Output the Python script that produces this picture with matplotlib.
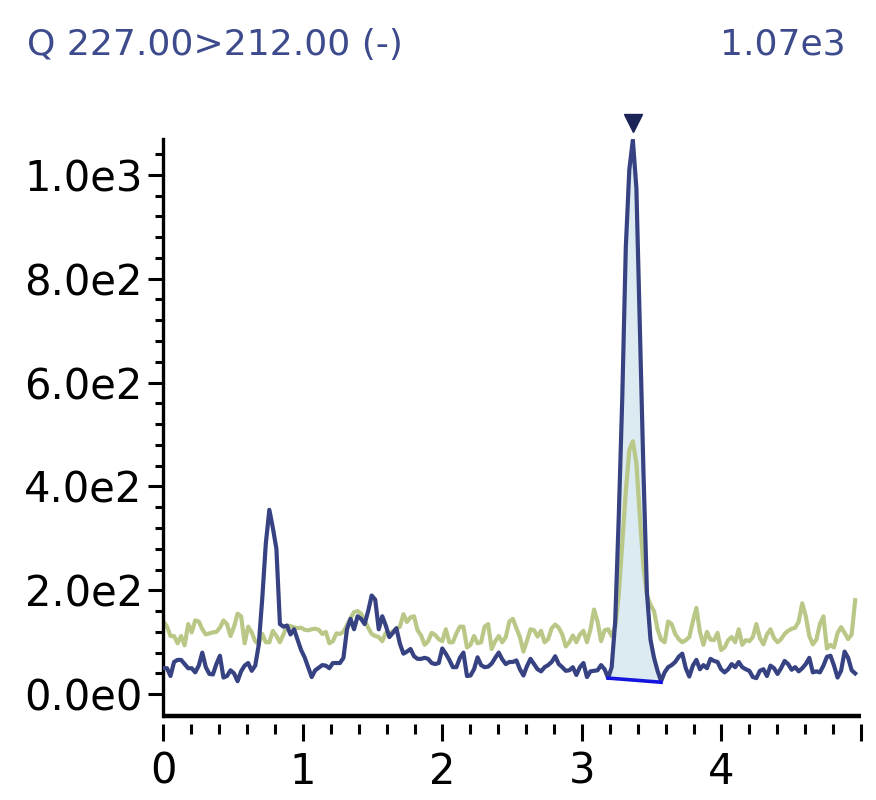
import numpy as np
import matplotlib
matplotlib.use('Agg')
import matplotlib.pyplot as plt

# Cromatograma: dos transiciones (azul = cuantificador, verde = confirmador)
RT_STEP = 0.0253  # min entre puntos

INT_BLUE = [
    50, 50, 35, 62, 66, 66, 58, 50, 50, 42,
    55, 80, 52, 39, 38, 58, 74, 32, 35, 46,
    40, 25, 44, 55, 60, 45, 55, 95, 185, 290,
    355, 320, 280, 135, 130, 132, 115, 125, 105, 85,
    71, 52, 33, 46, 51, 56, 55, 50, 60, 60,
    60, 70, 125, 145, 125, 150, 145, 135, 160, 190,
    182, 125, 150, 132, 110, 118, 127, 97, 78, 82,
    87, 73, 68, 68, 70, 68, 60, 58, 60, 88,
    78, 66, 52, 52, 70, 80, 35, 36, 48, 71,
    56, 52, 53, 59, 70, 80, 67, 58, 62, 62,
    65, 48, 36, 54, 68, 58, 48, 44, 52, 56,
    62, 73, 58, 52, 45, 46, 52, 37, 52, 60,
    33, 44, 45, 46, 56, 48, 31, 52, 140, 340,
    570, 860, 1010, 1067, 975, 700, 430, 195, 105, 70,
    45, 25, 42, 52, 56, 62, 72, 78, 50, 34,
    55, 66, 48, 56, 50, 68, 64, 62, 48, 42,
    48, 58, 52, 62, 52, 48, 45, 33, 31, 45,
    48, 35, 55, 50, 39, 50, 64, 58, 47, 52,
    44, 50, 58, 70, 42, 44, 42, 55, 72, 74,
    55, 32, 45, 82, 70, 46, 40,
]

INT_GREEN = [
    140, 130, 112, 112, 98, 112, 94, 135, 119, 142,
    140, 125, 115, 117, 119, 120, 128, 142, 135, 112,
    130, 155, 150, 98, 130, 119, 102, 96, 116, 100,
    100, 122, 112, 100, 115, 132, 131, 129, 127, 128,
    124, 123, 125, 126, 124, 116, 120, 98, 102, 117,
    116, 120, 133, 146, 158, 160, 155, 142, 128, 116,
    112, 110, 102, 118, 117, 121, 126, 130, 154, 139,
    148, 150, 123, 113, 95, 102, 118, 114, 106, 102,
    125, 100, 100, 117, 130, 130, 90, 95, 112, 98,
    100, 130, 135, 87, 102, 112, 100, 110, 140, 145,
    127, 110, 82, 103, 125, 123, 111, 122, 100, 106,
    127, 134, 128, 115, 92, 100, 113, 100, 115, 122,
    100, 125, 163, 140, 102, 123, 125, 112, 130, 190,
    290, 390, 470, 487, 445, 340, 245, 190, 172, 160,
    125, 105, 100, 140, 135, 116, 106, 100, 104, 110,
    140, 166, 120, 95, 120, 105, 104, 118, 85, 90,
    104, 110, 100, 125, 95, 104, 102, 110, 135, 108,
    96, 115, 125, 108, 100, 106, 116, 122, 126, 128,
    140, 175, 150, 112, 96, 105, 135, 150, 88, 95,
    90, 118, 129, 118, 106, 115, 181,
]

# Linea base de integracion del pico
BASE_RT = [3.1878, 3.5673]
BASE_INT = [31, 23]

TITLE_LEFT = 'Q 227.00>212.00 (-)'
TITLE_RIGHT = '1.07e3'

X_TICKS = [0, 1, 2, 3, 4, 5]
X_TICK_LABELS = ['0', '1', '2', '3', '4', '']
Y_TICKS = [0, 200, 400, 600, 800, 1000]
Y_TICK_LABELS = ['0.0e0', '2.0e2', '4.0e2', '6.0e2', '8.0e2', '1.0e3']

BLUE = '#374282'
GREEN = '#b9c887'
FILL = '#dceaf1'
TITLE_COLOR = '#3d4a8c'

plt.rcParams['font.family'] = ['DejaVu Sans']

rt = np.arange(len(INT_BLUE)) * RT_STEP
blue = np.array(INT_BLUE, dtype=float)
green = np.array(INT_GREEN, dtype=float)

fig = plt.figure(figsize=(8.76, 8.0), dpi=100)
ax = fig.add_axes([0.1866, 0.105, 0.7962, 0.7213])

# Area integrada
mask = (rt >= BASE_RT[0] - 1e-6) & (rt <= BASE_RT[1] + 1e-6)
base = np.interp(rt[mask], BASE_RT, BASE_INT)
ax.fill_between(rt[mask], blue[mask], base, color=FILL, lw=0, zorder=1)

ax.plot(rt, green, color=GREEN, lw=3.0, zorder=2, solid_joinstyle='round')
ax.plot(rt, blue, color=BLUE, lw=3.0, zorder=3, solid_joinstyle='round')
ax.plot(BASE_RT, BASE_INT, color='#1414e0', lw=2.6, zorder=4)

# Marcador del apice
imax = int(np.argmax(blue))
ax.plot(rt[imax], blue[imax] * 1.03, marker='v', ms=13, color='#1b2456',
        clip_on=False, zorder=5)

ax.set_xlim(0, 5.0)
ax.set_ylim(-42, 1069)

ax.set_xticks(X_TICKS)
ax.set_xticklabels(X_TICK_LABELS)
ax.set_xticks(np.arange(0, 5.01, 0.2), minor=True)
ax.set_yticks(Y_TICKS)
ax.set_yticklabels(Y_TICK_LABELS)
ax.set_yticks(np.arange(0, 1041, 40), minor=True)

for s in ['top', 'right']:
    ax.spines[s].set_visible(False)
ax.spines['left'].set_linewidth(2.4)
# eje x separado de las marcas
ax.spines['bottom'].set_position(('outward', 6))
ax.spines['bottom'].set_visible(False)
ax.plot([0, 1], [0, 0], transform=ax.transAxes, color='black', lw=3.2,
        clip_on=False, solid_capstyle='butt')

ax.tick_params(axis='y', which='major', direction='out', length=11, width=2.2,
               labelsize=30, pad=4)
ax.tick_params(axis='y', which='minor', direction='out', length=6, width=2.2)
ax.tick_params(axis='x', which='major', direction='out', length=12, width=2.2,
               labelsize=30, pad=7)
ax.tick_params(axis='x', which='minor', direction='out', length=7, width=2.2)

fig.text(0.031, 0.944, TITLE_LEFT, fontsize=26, color=TITLE_COLOR,
         ha='left', va='center')
fig.text(0.965, 0.944, TITLE_RIGHT, fontsize=26, color=TITLE_COLOR,
         ha='right', va='center')

fig.savefig('out.png', dpi=100)
